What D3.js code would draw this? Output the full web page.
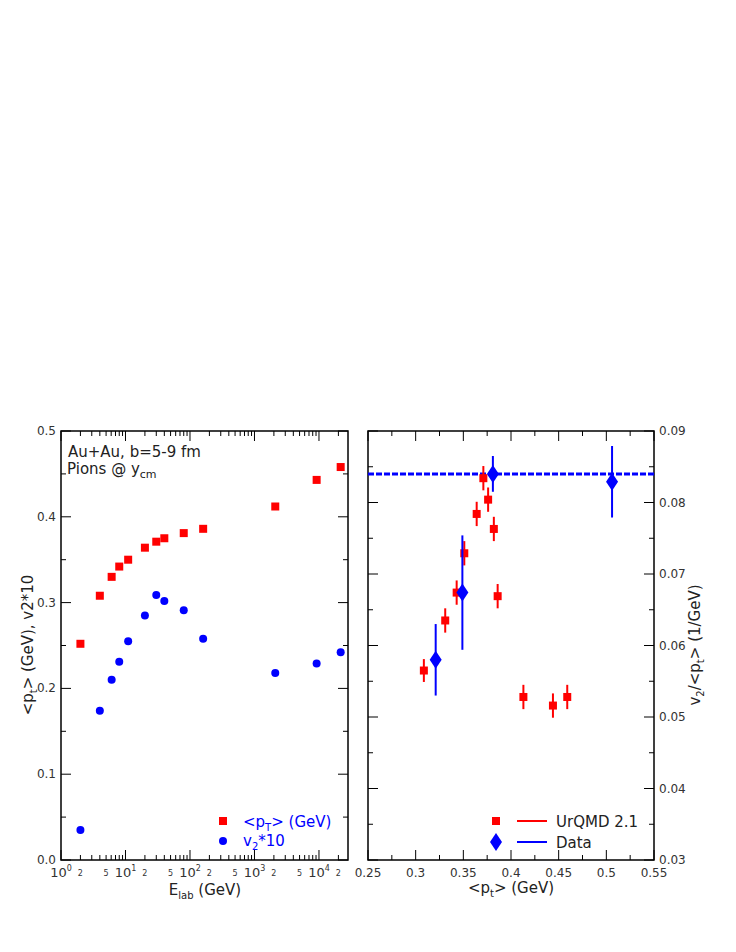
<!DOCTYPE html>
<html><head><meta charset="utf-8">
<script src="https://cdn.jsdelivr.net/npm/d3@7"></script>
<style>body{margin:0;background:#fff}text{font-family:"DejaVu Sans",sans-serif}</style>
</head><body><svg id="c" width="736" height="952"></svg>
<script>
// left panel: energy dependence
var elab = [2, 4, 6.1, 8, 11, 20, 30, 40, 80, 160, 2100, 9200, 21700];
var meanPt = [0.252, 0.308, 0.330, 0.342, 0.350, 0.364, 0.371, 0.375, 0.381, 0.386, 0.412, 0.443, 0.458];
var v2x10 = [0.035, 0.174, 0.210, 0.231, 0.255, 0.285, 0.309, 0.302, 0.291, 0.258, 0.218, 0.229, 0.242];

// right panel: v2/<pt> vs <pt>
var urqmdPt = [0.3086, 0.331, 0.343, 0.351, 0.364, 0.371, 0.376, 0.382, 0.386, 0.413, 0.444, 0.459];
var urqmdV = [0.0565, 0.0635, 0.0674, 0.0729, 0.0784, 0.0834, 0.0804, 0.0763, 0.0669, 0.0528, 0.0516, 0.0528];
var urqmdErr = [0.0016, 0.0017, 0.0017, 0.0017, 0.0017, 0.0017, 0.0017, 0.0017, 0.0017, 0.0017, 0.0017, 0.0017];
var dataPt = [0.321, 0.349, 0.381, 0.506];
var dataV = [0.0580, 0.0674, 0.0840, 0.0829];
var dataErr = [0.0050, 0.0080, 0.0025, 0.0050];
var dataLevel = 0.0840;

var svg = d3.select('#c');
var yTop = 431, yBot = 860;
var RED = '#f00', BLUE = '#00f';

// ---------- left panel ----------
var x1 = d3.scaleLog().domain([1, Math.pow(10, 4.45)]).range([61, 348]);
var y1 = d3.scaleLinear().domain([0, 0.5]).range([yBot, yTop]);
var g1 = svg.append('g');

var minorLog = [];
for (var e = 0; e < 5; e++) for (var k = 1; k < 10; k++) {
	var v = k * Math.pow(10, e);
	if (v <= x1.domain()[1]) minorLog.push(v);
}
minorLog.forEach(function(v) {
	var major = Math.abs(Math.log10(v) % 1) < 1e-9;
	var len = major ? 10 : 5;
	g1.append('line').attr('x1', x1(v)).attr('x2', x1(v)).attr('y1', yBot).attr('y2', yBot - len).attr('stroke', '#000');
	g1.append('line').attr('x1', x1(v)).attr('x2', x1(v)).attr('y1', yTop).attr('y2', yTop + len).attr('stroke', '#000');
	var d = Math.round(v / Math.pow(10, Math.floor(Math.log10(v) + 1e-9)));
	if (major) {
		var t = g1.append('text').attr('x', x1(v)).attr('y', yBot + 17).attr('text-anchor', 'middle').attr('font-size', 13).attr('fill', '#333').text('10');
		t.append('tspan').attr('dy', -6).attr('font-size', 8).text(Math.round(Math.log10(v)));
	} else if (d === 2 || d === 5) {
		g1.append('text').attr('x', x1(v)).attr('y', yBot + 16).attr('text-anchor', 'middle').attr('font-size', 8).attr('fill', '#333').text(d);
	}
});
d3.range(0, 11).forEach(function(i) {
	var v = i * 0.05, len = i % 2 ? 5 : 10;
	g1.append('line').attr('x1', 61).attr('x2', 61 + len).attr('y1', y1(v)).attr('y2', y1(v)).attr('stroke', '#000');
	g1.append('line').attr('x1', 348).attr('x2', 348 - len).attr('y1', y1(v)).attr('y2', y1(v)).attr('stroke', '#000');
	if (i % 2 === 0) g1.append('text').attr('x', 56).attr('y', y1(v) + 4).attr('text-anchor', 'end').attr('font-size', 12).attr('fill', '#333').text(v.toFixed(1));
});
g1.append('rect').attr('x', 61).attr('y', yTop).attr('width', 287).attr('height', yBot - yTop).attr('fill', 'none').attr('stroke', '#000').attr('stroke-width', 1.5);

g1.selectAll('rect.pt').data(elab).enter().append('rect')
	.attr('x', function(d) { return x1(d) - 4; })
	.attr('y', function(d, i) { return y1(meanPt[i]) - 4; })
	.attr('width', 8).attr('height', 8).attr('fill', RED);
g1.selectAll('circle.v2').data(elab).enter().append('circle')
	.attr('cx', function(d) { return x1(d); })
	.attr('cy', function(d, i) { return y1(v2x10[i]); })
	.attr('r', 4).attr('fill', BLUE);

g1.append('text').attr('x', 68).attr('y', 457).attr('font-size', 15).attr('fill', '#222').text('Au+Au, b=5-9 fm');
var t2 = g1.append('text').attr('x', 67).attr('y', 474).attr('font-size', 15).attr('fill', '#222').text('Pions @ y');
t2.append('tspan').attr('dy', 4).attr('font-size', 11).text('cm');

g1.append('rect').attr('x', 219).attr('y', 817).attr('width', 8).attr('height', 8).attr('fill', RED);
g1.append('circle').attr('cx', 223).attr('cy', 841).attr('r', 4).attr('fill', BLUE);
var l1 = g1.append('text').attr('x', 243).attr('y', 827).attr('font-size', 15).attr('fill', BLUE).text('<p');
l1.append('tspan').attr('dy', 4).attr('font-size', 10).text('T');
l1.append('tspan').attr('dy', -4).text('> (GeV)');
var l2 = g1.append('text').attr('x', 243).attr('y', 846).attr('font-size', 15).attr('fill', BLUE).text('v');
l2.append('tspan').attr('dy', 4).attr('font-size', 10).text('2');
l2.append('tspan').attr('dy', -4).text('*10');

var xl1 = g1.append('text').attr('x', 205).attr('y', 895).attr('text-anchor', 'middle').attr('font-size', 15).attr('fill', '#222').text('E');
xl1.append('tspan').attr('dy', 4).attr('font-size', 10).text('lab');
xl1.append('tspan').attr('dy', -4).text(' (GeV)');
var yl1 = g1.append('text').attr('transform', 'translate(33,645) rotate(-90)').attr('text-anchor', 'middle').attr('font-size', 15).attr('fill', '#222').text('<p');
yl1.append('tspan').attr('dy', 4).attr('font-size', 10).text('t');
yl1.append('tspan').attr('dy', -4).text('> (GeV), v2*10');

// ---------- right panel ----------
var x2 = d3.scaleLinear().domain([0.25, 0.55]).range([368, 654]);
var y2 = d3.scaleLinear().domain([0.03, 0.09]).range([yBot, yTop]);
var g2 = svg.append('g');

d3.range(0, 13).forEach(function(i) {
	var v = 0.25 + i * 0.025, len = i % 2 ? 5 : 10;
	g2.append('line').attr('x1', x2(v)).attr('x2', x2(v)).attr('y1', yBot).attr('y2', yBot - len).attr('stroke', '#000');
	g2.append('line').attr('x1', x2(v)).attr('x2', x2(v)).attr('y1', yTop).attr('y2', yTop + len).attr('stroke', '#000');
	if (i % 2 === 0) g2.append('text').attr('x', x2(v)).attr('y', yBot + 17).attr('text-anchor', 'middle').attr('font-size', 12).attr('fill', '#333').text(d3.format('~g')(+v.toFixed(3)));
});
d3.range(0, 13).forEach(function(i) {
	var v = 0.03 + i * 0.005, len = i % 2 ? 5 : 10;
	g2.append('line').attr('x1', 368).attr('x2', 368 + len).attr('y1', y2(v)).attr('y2', y2(v)).attr('stroke', '#000');
	g2.append('line').attr('x1', 654).attr('x2', 654 - len).attr('y1', y2(v)).attr('y2', y2(v)).attr('stroke', '#000');
	if (i % 2 === 0) g2.append('text').attr('x', 659).attr('y', y2(v) + 4).attr('font-size', 12).attr('fill', '#333').text(v.toFixed(2));
});
g2.append('rect').attr('x', 368).attr('y', yTop).attr('width', 286).attr('height', yBot - yTop).attr('fill', 'none').attr('stroke', '#000').attr('stroke-width', 1.5);

g2.append('line').attr('x1', 368).attr('x2', 654).attr('y1', y2(dataLevel)).attr('y2', y2(dataLevel))
	.attr('stroke', BLUE).attr('stroke-width', 3).attr('stroke-dasharray', '6,2');

urqmdPt.forEach(function(p, i) {
	g2.append('line').attr('x1', x2(p)).attr('x2', x2(p)).attr('y1', y2(urqmdV[i] - urqmdErr[i])).attr('y2', y2(urqmdV[i] + urqmdErr[i])).attr('stroke', RED).attr('stroke-width', 2);
	g2.append('rect').attr('x', x2(p) - 4).attr('y', y2(urqmdV[i]) - 4).attr('width', 8).attr('height', 8).attr('fill', RED);
});
dataPt.forEach(function(p, i) {
	g2.append('line').attr('x1', x2(p)).attr('x2', x2(p)).attr('y1', y2(dataV[i] - dataErr[i])).attr('y2', y2(dataV[i] + dataErr[i])).attr('stroke', BLUE).attr('stroke-width', 2);
	g2.append('path').attr('transform', 'translate(' + x2(p) + ',' + y2(dataV[i]) + ')').attr('d', 'M0,-9L6,0L0,9L-6,0Z').attr('fill', BLUE);
});

g2.append('rect').attr('x', 492).attr('y', 817).attr('width', 8).attr('height', 8).attr('fill', RED);
g2.append('line').attr('x1', 517).attr('x2', 547).attr('y1', 821).attr('y2', 821).attr('stroke', RED).attr('stroke-width', 2);
g2.append('text').attr('x', 556).attr('y', 827).attr('font-size', 15).attr('fill', '#222').text('UrQMD 2.1');
g2.append('path').attr('transform', 'translate(496,842)').attr('d', 'M0,-9L6,0L0,9L-6,0Z').attr('fill', BLUE);
g2.append('line').attr('x1', 517).attr('x2', 547).attr('y1', 842).attr('y2', 842).attr('stroke', BLUE).attr('stroke-width', 2);
g2.append('text').attr('x', 556).attr('y', 848).attr('font-size', 15).attr('fill', '#222').text('Data');

var xl2 = g2.append('text').attr('x', 511).attr('y', 893).attr('text-anchor', 'middle').attr('font-size', 15).attr('fill', '#222').text('<p');
xl2.append('tspan').attr('dy', 4).attr('font-size', 10).text('t');
xl2.append('tspan').attr('dy', -4).text('> (GeV)');
var yl2 = g2.append('text').attr('transform', 'translate(700,645) rotate(-90)').attr('text-anchor', 'middle').attr('font-size', 15).attr('fill', '#222').text('v');
yl2.append('tspan').attr('dy', 4).attr('font-size', 10).text('2');
yl2.append('tspan').attr('dy', -4).text('/<p');
yl2.append('tspan').attr('dy', 4).attr('font-size', 10).text('t');
yl2.append('tspan').attr('dy', -4).text('> (1/GeV)');
</script></body></html>
